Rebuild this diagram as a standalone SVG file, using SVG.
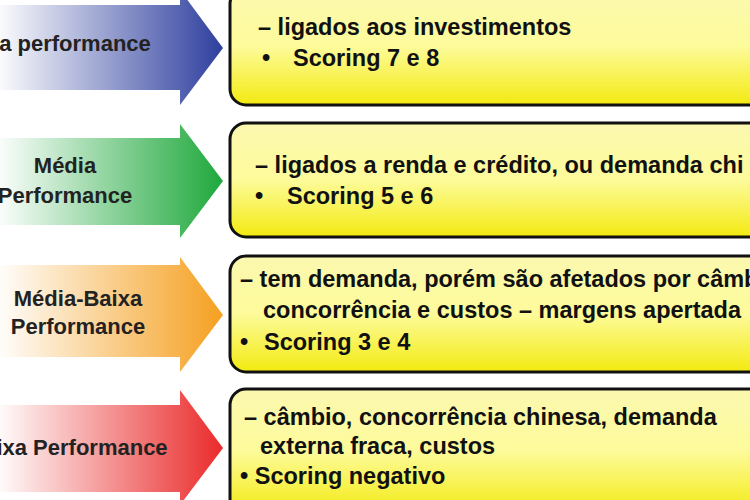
<svg xmlns="http://www.w3.org/2000/svg" width="750" height="500" viewBox="0 0 750 500">
<defs>
<linearGradient id="gb" x1="0" x2="1" y1="0" y2="0"><stop offset="0" stop-color="#ffffff"/><stop offset="1" stop-color="#2e3f9e"/></linearGradient>
<linearGradient id="gg" x1="0" x2="1" y1="0" y2="0"><stop offset="0" stop-color="#ffffff"/><stop offset="1" stop-color="#1fa83c"/></linearGradient>
<linearGradient id="go" x1="0" x2="1" y1="0" y2="0"><stop offset="0" stop-color="#ffffff"/><stop offset="1" stop-color="#f5a020"/></linearGradient>
<linearGradient id="gr" x1="0" x2="1" y1="0" y2="0"><stop offset="0" stop-color="#ffffff"/><stop offset="1" stop-color="#ea2a2a"/></linearGradient>
<linearGradient id="gy" x1="0" x2="0" y1="0" y2="1"><stop offset="0" stop-color="#fbf8b0"/><stop offset="0.5" stop-color="#fdfb9a"/><stop offset="1" stop-color="#f3ea10"/></linearGradient>
<style>
.box{fill:url(#gy);stroke:#111;stroke-width:3}
.t{font-family:"Liberation Sans",Arial,sans-serif;font-weight:bold;font-size:23.5px;fill:#111}
.a{font-family:"Liberation Sans",Arial,sans-serif;font-weight:bold;font-size:22px;fill:#222;text-anchor:middle}
</style>
</defs>
<rect width="750" height="500" fill="#fff"/>
<g id="arrow1"><path d="M-5,5 H180 V-10 L223,48 L180,105 V90 H-5 Z" fill="url(#gb)"/><text class="a" x="75" y="51">a performance</text></g>
<g id="box1"><rect class="box" x="230" y="-12" width="540" height="117" rx="16"/><text class="t" x="258" y="35">– ligados aos investimentos</text><text class="t" x="262" y="66">•</text><text class="t" x="293" y="66">Scoring 7 e 8</text></g>
<g id="arrow2"><path d="M-5,138 H180 V124 L223,181 L180,238 V225 H-5 Z" fill="url(#gg)"/><text class="a" x="65" y="173">Média</text><text class="a" x="65" y="203">Performance</text></g>
<g id="box2"><rect class="box" x="230" y="123" width="540" height="114" rx="16"/><text class="t" x="255" y="173">– ligados a renda e crédito, ou demanda chi</text><text class="t" x="255" y="204">•</text><text class="t" x="287" y="204">Scoring 5 e 6</text></g>
<g id="arrow3"><path d="M-5,265 H180 V257 L223,315 L180,372 V357 H-5 Z" fill="url(#go)"/><text class="a" x="78" y="306">Média-Baixa</text><text class="a" x="78" y="334">Performance</text></g>
<g id="box3"><rect class="box" x="230" y="256" width="540" height="116" rx="16"/><text class="t" x="240" y="287">– tem demanda, porém são afetados por câmb</text><text class="t" x="263" y="318">concorrência e custos – margens apertada</text><text class="t" x="240" y="350">•</text><text class="t" x="264" y="350">Scoring 3 e 4</text></g>
<g id="arrow4"><path d="M-5,405 H180 V390 L223,448 L180,505 V492 H-5 Z" fill="url(#gr)"/><text class="a" x="82" y="455">ixa Performance</text></g>
<g id="box4"><rect class="box" x="230" y="389" width="540" height="125" rx="16"/><text class="t" x="244" y="425">– câmbio, concorrência chinesa, demanda</text><text class="t" x="260" y="454">externa fraca, custos</text><text class="t" x="240" y="484">• Scoring negativo</text></g>
<g id="connectors"></g>
</svg>
